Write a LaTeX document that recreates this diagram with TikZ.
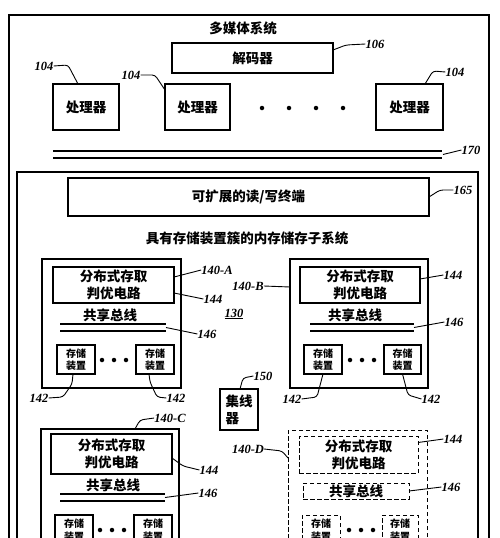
\documentclass[tikz,border=0pt]{standalone}
\usepackage{fontspec}
\setmainfont{Liberation Serif}
\newfontfamily\cjk{Noto Sans CJK SC}
\usetikzlibrary{calc}
\begin{document}
\begin{tikzpicture}[x=1pt,y=-1pt,
 box/.style={draw, line width=1.3pt, inner sep=0pt, outer sep=0pt},
 dbox/.style={draw, line width=1pt, dash pattern=on 4.5pt off 2.5pt, inner sep=0pt, outer sep=0pt},
 zh/.style={font=\cjk\bfseries\fontsize{13.5}{17}\selectfont},
 zhs/.style={font=\cjk\bfseries\fontsize{10}{12.5}\selectfont},
 num/.style={font=\bfseries\itshape\fontsize{12.5}{12.5}\selectfont, inner sep=0pt},
 lead/.style={line width=0.9pt, rounded corners=3pt},
 bus/.style={line width=1.1pt},
 dot/.style={circle, fill, inner sep=0pt, minimum size=4.5pt}]
\useasboundingbox (0,0) rectangle (500,538);
\fill[white] (0,0) rectangle (500,538);
\clip (0,0) rectangle (500,538);

% frames
\node[box, minimum width=480pt, minimum height=560pt] (outer) at (249,295) {};
\node[box, minimum width=461pt, minimum height=403pt] (inner) at (247.5,373.5) {};
\node[zh] (title) at (243,28) {多媒体系统};

% decoder and processors
\node[box, zh, minimum width=161pt, minimum height=30pt] (dec) at (252.5,58) {解码器};
\node[box, zh, minimum width=66pt, minimum height=46pt] (p1) at (86,107) {处理器};
\node[box, zh, minimum width=65pt, minimum height=46pt] (p2) at (197.5,107) {处理器};
\node[box, zh, minimum width=67pt, minimum height=46pt] (p3) at (409.5,107) {处理器};
\node[dot] (pd1) at (262,108) {};
\node[dot] (pd2) at (289,108) {};
\node[dot] (pd3) at (316,108) {};
\node[dot] (pd4) at (343,108) {};

\node[num] (n106) at (375,44) {106};
\node[num] (n104a) at (44,66) {104};
\node[num] (n104b) at (131,75) {104};
\node[num] (n104c) at (455,72) {104};
\draw[lead] ($(dec.north east)+(0,7)$) -- (346,45) -- (n106.west);
\draw[lead] (n104a.east) -- (68,65) -- ([xshift=-8pt]p1.north);
\draw[lead] (n104b.east) -- (155,75) -- ([yshift=-6pt]p2.north west);
\draw[lead] (n104c.west) -- (433,71) -- ([xshift=15.5pt]p3.north);

% bus 170
\coordinate (b1l) at (53,151); \coordinate (b1r) at (442,151);
\coordinate (b2l) at (53,158); \coordinate (b2r) at (442,158);
\draw[bus] (b1l) -- (b1r);
\draw[bus] (b2l) -- (b2r);
\node[num] (n170) at (471,150) {170};
\coordinate (b170) at (443,154.5);
\draw[lead] (b170) -- (n170.west);

% read/write terminal
\node[box, zh, minimum width=361pt, minimum height=38pt] (rw) at (248.5,197) {可扩展的读/写终端};
\node[num] (n165) at (463,190) {165};
\draw[lead] (rw.east) -- (440,190) -- (n165.west);

\node[zh] (sub) at (247,238) {具有存储装置簇的内存储存子系统};

% cluster A
\node[box, minimum width=139pt, minimum height=129pt] (cA) at (111.5,323.5) {};
\node[box, zh, align=center, minimum width=121pt, minimum height=36pt] (arbA) at (113.5,285) {分布式存取\\判优电路};
\node[zh] (sbA) at (110,315) {共享总线};
\coordinate (bA1l) at (60,324); \coordinate (bA1r) at (166,324);
\coordinate (bA2l) at (60,331); \coordinate (bA2r) at (166,331);
\draw[bus] (bA1l) -- (bA1r);
\draw[bus] (bA2l) -- (bA2r);
\node[box, zhs, align=center, minimum width=38pt, minimum height=29pt] (sA1) at (76,359.5) {存储\\装置};
\node[box, zhs, align=center, minimum width=38pt, minimum height=29pt] (sA2) at (155,359.5) {存储\\装置};
\node[dot] (dA1) at (102,360) {};
\node[dot] (dA2) at (114,360) {};
\node[dot] (dA3) at (126,360) {};
\node[num] (n140a) at (217,270) {140-A};
\node[num] (n144a) at (213,299) {144};
\node[num] (n130) at (234,314) {\underline{130}};
\node[num] (n146a) at (207,334) {146};
\node[num] (n142a) at (39,398) {142};
\node[num] (n142b) at (176,398) {142};
\draw[lead] ([yshift=8pt]arbA.east) -- (n140a.west);
\draw[lead] ([yshift=-8pt]arbA.east) -- (n144a.west);
\coordinate (bAm) at (166,327.5);
\draw[lead] (bAm) -- (n146a.west);
\draw[lead] (n142a.east) -- (63,397) -- (72,384) -- ([xshift=-3pt]sA1.south);
\draw[lead] (n142b.west) -- (157,397) -- (150,382) -- ([xshift=-6pt]sA2.south);

% cluster B
\node[box, minimum width=138pt, minimum height=129pt] (cB) at (359,323.5) {};
\node[box, zh, align=center, minimum width=120pt, minimum height=36pt] (arbB) at (360,285) {分布式存取\\判优电路};
\node[zh] (sbB) at (355,315) {共享总线};
\coordinate (bB1l) at (310,324); \coordinate (bB1r) at (414,324);
\coordinate (bB2l) at (310,331); \coordinate (bB2r) at (414,331);
\draw[bus] (bB1l) -- (bB1r);
\draw[bus] (bB2l) -- (bB2r);
\node[box, zhs, align=center, minimum width=38pt, minimum height=29pt] (sB1) at (323,359.5) {存储\\装置};
\node[box, zhs, align=center, minimum width=37pt, minimum height=29pt] (sB2) at (402.5,359.5) {存储\\装置};
\node[dot] (dB1) at (350,360) {};
\node[dot] (dB2) at (362,360) {};
\node[dot] (dB3) at (374,360) {};
\node[num] (n140b) at (248,286) {140-B};
\node[num] (n144b) at (453,275) {144};
\node[num] (n146b) at (454,322) {146};
\node[num] (n142c) at (292,399) {142};
\node[num] (n142d) at (431,399) {142};
\draw[lead] (n140b.east) -- ([yshift=36.5pt]cB.west);
\draw[lead] ([yshift=6pt]arbB.east) -- (n144b.west);
\coordinate (bBm) at (414,327.5);
\draw[lead] (bBm) -- (n146b.west);
\draw[lead] (n142c.east) -- (317,397) -- (sB1.south);
\draw[lead] (n142d.west) -- (408,395) -- (sB2.south);

% hub
\node[box, zh, align=left, minimum width=38pt, minimum height=41pt] (hub) at (239,409.5) {集线\\器};
\node[num] (n150) at (263,376) {150};
\draw[lead] (n150.west) -- (243,378) -- ([xshift=1pt]hub.north);

% cluster C
\node[box, minimum width=138pt, minimum height=150pt] (cC) at (110,504) {};
\node[box, zh, align=center, minimum width=121pt, minimum height=40pt] (arbC) at (111.5,454) {分布式存取\\判优电路};
\node[zh] (sbC) at (113,485) {共享总线};
\coordinate (bC1l) at (60,494); \coordinate (bC1r) at (165,494);
\coordinate (bC2l) at (60,501); \coordinate (bC2r) at (165,501);
\draw[bus] (bC1l) -- (bC1r);
\draw[bus] (bC2l) -- (bC2r);
\node[box, zhs, align=center, minimum width=38pt, minimum height=30pt] (sC1) at (74,530) {存储\\装置};
\node[box, zhs, align=center, minimum width=38pt, minimum height=30pt] (sC2) at (153,530) {存储\\装置};
\node[dot] (dC1) at (100,530) {};
\node[dot] (dC2) at (112,530) {};
\node[dot] (dC3) at (124,530) {};
\node[num] (n140c) at (170,418) {140-C};
\node[num] (n144c) at (209,470) {144};
\node[num] (n146c) at (208,493) {146};
\draw[lead] (n140c.west) -- (140,420) -- ([xshift=25pt]cC.north);
\draw[lead] ([yshift=-4pt]arbC.east) -- (183,466) -- (n144c.west);
\coordinate (bCm) at (165,497.5);
\draw[lead] (bCm) -- (n146c.west);

% cluster D (dashed)
\node[dbox, minimum width=139pt, minimum height=150pt] (cD) at (357.5,505) {};
\node[dbox, zh, align=center, minimum width=119pt, minimum height=37pt] (arbD) at (358.5,454.5) {分布式存取\\判优电路};
\node[dbox, zh, minimum width=106pt, minimum height=16pt] (sbD) at (356,491) {共享总线};
\node[dbox, zhs, align=center, minimum width=38pt, minimum height=30pt] (sD1) at (321,530) {存储\\装置};
\node[dbox, zhs, align=center, minimum width=36pt, minimum height=30pt] (sD2) at (400,530) {存储\\装置};
\node[dot] (dD1) at (349,530) {};
\node[dot] (dD2) at (361,530) {};
\node[dot] (dD3) at (373,530) {};
\node[num] (n140d) at (248,449) {140-D};
\node[num] (n144d) at (453,439) {144};
\node[num] (n146d) at (451,487) {146};
\draw[lead] (n140d.east) -- (282,451) -- ([yshift=47pt]cD.west);
\draw[lead] ([yshift=12pt]arbD.east) -- (n144d.west);
\draw[lead] (sbD.east) -- (n146d.west);
\end{tikzpicture}
\end{document}
